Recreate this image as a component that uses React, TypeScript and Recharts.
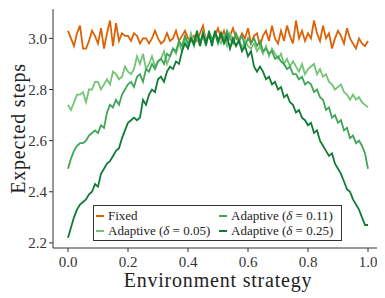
import React from 'react';
import { LineChart, Line, XAxis, YAxis, Legend } from 'recharts';

const strategies: number[] = Array.from({ length: 101 }, (_, i) => i / 100);

const fixedSteps = [
  3.03, 3.00, 2.97, 3.02, 3.05, 2.96, 2.96, 2.99, 3.03, 3.01, 2.98,
  3.04, 2.96, 3.02, 3.07, 2.97, 3.06, 2.99, 3.02, 3.01, 3.01,
  2.99, 3.02, 3.01, 2.98, 3.00, 3.00, 2.98, 3.00, 3.03, 3.00,
  2.98, 2.99, 3.02, 2.99, 3.00, 3.03, 2.99, 3.01, 3.03, 3.00,
  2.99, 3.01, 2.99, 3.02, 3.05, 2.99, 3.02, 3.00, 3.01, 3.04,
  3.00, 3.03, 2.99, 3.01, 3.04, 3.00, 2.99, 3.02, 3.00, 3.04,
  2.98, 3.01, 3.02, 2.97, 3.01, 3.03, 2.99, 3.05, 3.00, 2.98,
  3.03, 2.99, 3.05, 3.01, 2.98, 3.07, 3.00, 3.03, 2.99, 3.02,
  3.00, 3.07, 3.02, 2.99, 3.05, 3.00, 3.02, 2.96, 3.00, 3.03,
  3.01, 2.98, 3.04, 3.00, 2.98, 2.96, 3.00, 2.98, 2.97, 2.99,
];

const adaptive005 = [
  2.74, 2.72, 2.75, 2.78, 2.78, 2.79, 2.75, 2.80, 2.80, 2.83, 2.83,
  2.80, 2.82, 2.84, 2.82, 2.87, 2.86, 2.84, 2.85, 2.89, 2.87,
  2.86, 2.88, 2.93, 2.90, 2.94, 2.88, 2.90, 2.93, 2.89, 2.91,
  2.92, 2.95, 2.90, 2.93, 2.96, 2.94, 2.98, 2.95, 3.00, 2.97,
  3.02, 2.98, 3.01, 2.97, 3.03, 2.99, 3.01, 2.98, 3.02, 3.00,
  2.98, 3.01, 2.97, 3.02, 2.99, 2.97, 3.00, 2.96, 2.99, 2.97,
  2.96, 2.98, 2.95, 2.97, 2.94, 2.97, 2.93, 2.96, 2.94, 2.92,
  2.94, 2.90, 2.92, 2.89, 2.91, 2.89, 2.87, 2.90, 2.86, 2.88,
  2.89, 2.90, 2.86, 2.88, 2.85, 2.86, 2.83, 2.82, 2.80, 2.81,
  2.82, 2.79, 2.78, 2.76, 2.78, 2.76, 2.77, 2.75, 2.74, 2.73,
];

const adaptive011 = [
  2.49, 2.53, 2.56, 2.58, 2.59, 2.59, 2.60, 2.62, 2.63, 2.64, 2.63,
  2.66, 2.65, 2.71, 2.74, 2.73, 2.76, 2.74, 2.78, 2.80, 2.82,
  2.83, 2.81, 2.85, 2.86, 2.83, 2.88, 2.87, 2.90, 2.88, 2.91,
  2.92, 2.90, 2.94, 2.93, 2.96, 2.95, 2.99, 2.97, 3.01, 2.98,
  3.00, 2.97, 3.02, 2.99, 3.01, 2.97, 3.03, 2.99, 3.02, 2.98,
  3.02, 2.99, 3.03, 3.00, 2.98, 3.02, 2.99, 3.01, 2.97, 3.00,
  2.98, 3.00, 2.97, 2.99, 2.95, 2.96, 2.94, 2.95, 2.92, 2.93,
  2.91, 2.90, 2.88, 2.89, 2.86, 2.86, 2.84, 2.85, 2.82, 2.83,
  2.82, 2.79, 2.80, 2.77, 2.76, 2.72, 2.73, 2.69, 2.70, 2.67,
  2.68, 2.64, 2.65, 2.61, 2.62, 2.59, 2.60, 2.58, 2.55, 2.49,
];

const adaptive025 = [
  2.22, 2.26, 2.30, 2.33, 2.35, 2.36, 2.37, 2.39, 2.40, 2.43, 2.42,
  2.47, 2.49, 2.51, 2.52, 2.54, 2.56, 2.57, 2.61, 2.64, 2.67,
  2.68, 2.69, 2.68, 2.69, 2.76, 2.74, 2.78, 2.80, 2.79, 2.84,
  2.85, 2.83, 2.87, 2.89, 2.88, 2.91, 2.90, 2.95, 2.98, 2.96,
  3.00, 2.98, 3.03, 2.97, 3.02, 2.98, 3.02, 2.97, 3.03, 2.99,
  3.02, 2.98, 3.01, 2.96, 3.00, 2.97, 2.99, 2.95, 2.97, 2.93,
  2.95, 2.89, 2.87, 2.89, 2.87, 2.84, 2.85, 2.82, 2.83, 2.80,
  2.81, 2.77, 2.78, 2.75, 2.74, 2.71, 2.72, 2.69, 2.68, 2.66,
  2.67, 2.63, 2.64, 2.60, 2.58, 2.56, 2.54, 2.55, 2.51, 2.49,
  2.47, 2.44, 2.41, 2.40, 2.37, 2.35, 2.33, 2.30, 2.27, 2.27,
];

const xTicks = [0, 0.2, 0.4, 0.6, 0.8, 1.0];
const yTicks = [2.2, 2.4, 2.6, 2.8, 3.0];

const seriesKeys = ['fixed', 'a005', 'a011', 'a025'];
const seriesColors = ['#dd6206', '#74c476', '#3fa558', '#0f7b36'];
const seriesDeltas = [null, '0.05', '0.11', '0.25'];

const data = strategies.map((x, i) => ({
  x,
  fixed: fixedSteps[i],
  a005: adaptive005[i],
  a011: adaptive011[i],
  a025: adaptive025[i],
}));

const FONT = '"Liberation Serif", "Times New Roman", serif';
const AXIS = '#333333';

const labelFor = (i: number) =>
  seriesDeltas[i] === null ? (
    <span>Fixed</span>
  ) : (
    <span>
      Adaptive (<i>δ</i> = {seriesDeltas[i]})
    </span>
  );

const LegendBox = () => {
  const order = [0, 2, 1, 3];
  return (
    <div
      style={{
        border: '1px solid #333',
        background: '#fff',
        width: 247,
        height: 34,
        boxSizing: 'content-box',
        display: 'grid',
        gridTemplateColumns: '124px 123px',
        gridTemplateRows: '15px 15px',
        alignContent: 'center',
        fontFamily: FONT,
        fontSize: 13,
        color: '#222',
      }}
    >
      {order.map((si) => (
        <div key={si} style={{ display: 'flex', alignItems: 'center', whiteSpace: 'nowrap' }}>
          <span
            style={{
              display: 'inline-block',
              width: 8,
              height: 2,
              background: seriesColors[si],
              marginLeft: si === 0 || si === 1 ? 2 : 1,
              marginRight: 4,
            }}
          />
          {labelFor(si)}
        </div>
      ))}
    </div>
  );
};

export default function App() {
  return (
    <div style={{ width: 377, height: 290, fontFamily: FONT }}>
      <LineChart
        width={377}
        height={290}
        data={data}
        margin={{ top: 1, right: 2, bottom: 0, left: 0 }}
      >
        <XAxis
          type="number"
          dataKey="x"
          domain={[-0.05, 1.05]}
          ticks={xTicks}
          allowDataOverflow
          tickFormatter={(v: number) => v.toFixed(1)}
          height={50}
          tickSize={4}
          tickMargin={4}
          stroke={AXIS}
          tick={{ fill: '#333', fontSize: 15, fontFamily: FONT }}
          label={{
            value: 'Environment strategy',
            position: 'insideBottom',
            offset: 11,
            style: {
              fill: '#222',
              fontSize: 20,
              fontFamily: FONT,
              textAnchor: 'middle',
              letterSpacing: 0.8,
            },
          }}
        />
        <YAxis
          type="number"
          domain={[2.18, 3.115]}
          ticks={yTicks}
          allowDataOverflow
          tickFormatter={(v: number) => v.toFixed(1)}
          width={45}
          tickSize={4}
          tickMargin={2}
          stroke={AXIS}
          tick={{ fill: '#333', fontSize: 15, fontFamily: FONT }}
          label={{
            value: 'Expected steps',
            angle: -90,
            position: 'insideLeft',
            offset: 10,
            style: {
              fill: '#222',
              fontSize: 20,
              fontFamily: FONT,
              textAnchor: 'middle',
              letterSpacing: 0.8,
            },
          }}
        />
        {seriesKeys.map((k, i) => (
          <Line
            key={k}
            type="linear"
            dataKey={k}
            stroke={seriesColors[i]}
            strokeWidth={1.8}
            dot={false}
            isAnimationActive={false}
          />
        ))}
        <Legend
          layout="vertical"
          align="center"
          verticalAlign="middle"
          content={() => <LegendBox />}
          wrapperStyle={{ position: 'absolute', left: 85, top: 197, width: 'auto', height: 'auto' }}
        />
      </LineChart>
    </div>
  );
}
